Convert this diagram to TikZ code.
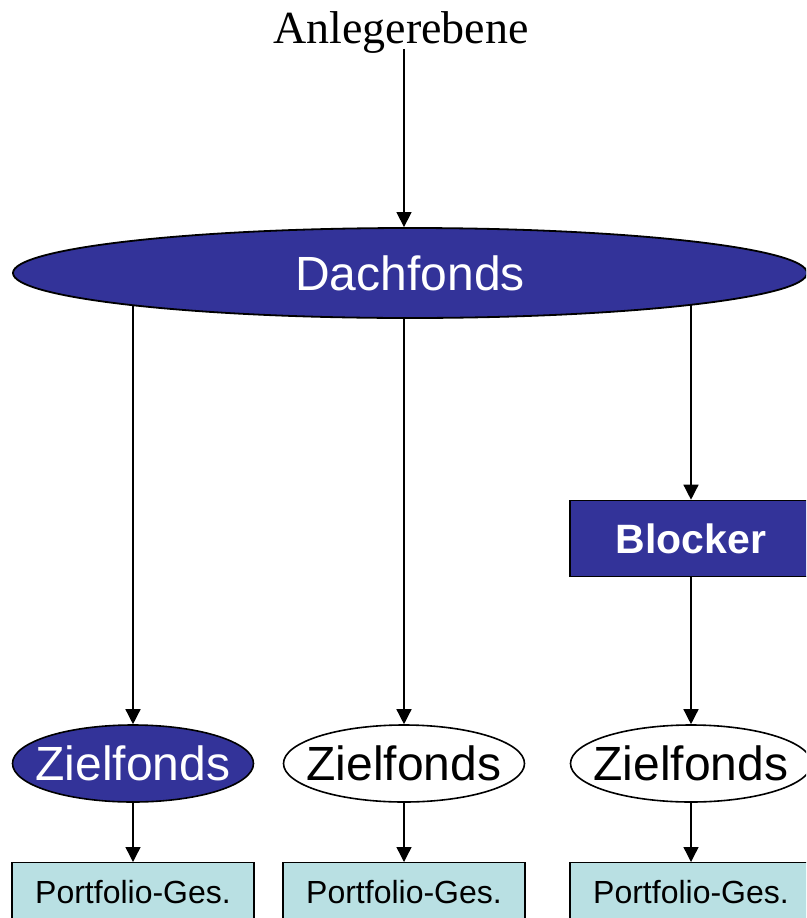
\documentclass[tikz,border=0pt]{standalone}
\usepackage{fontspec}
\setmainfont{Liberation Serif}
\setsansfont{Liberation Sans}
\usetikzlibrary{shapes.geometric,arrows.meta,backgrounds}
\definecolor{fondblue}{HTML}{333399}
\definecolor{portcyan}{HTML}{B9E0E3}
\newcommand{\fixedlabel}[1]{\makebox[0pt]{#1}}
\begin{document}
\begin{tikzpicture}[x=1pt,y=-1pt,
  conn/.style={line width=1.4pt,-{Triangle[width=15pt,length=15pt]}},
  bigfund/.style={ellipse,draw=black,line width=1.8pt,fill=fondblue,text=white,
    minimum width=794pt,minimum height=90pt,inner sep=0pt,
    font=\sffamily\fontsize{48}{52}\selectfont},
  target/.style={ellipse,draw=black,line width=1.6pt,
    minimum width=241pt,minimum height=77pt,inner sep=0pt,
    font=\sffamily\fontsize{48}{52}\selectfont},
  targetdark/.style={target,fill=fondblue,text=white},
  targetlight/.style={target,fill=white,text=black},
  blockbox/.style={rectangle,draw=black,line width=1.6pt,fill=fondblue,text=white,
    minimum width=242pt,minimum height=76pt,inner sep=0pt,
    font=\sffamily\bfseries\fontsize{41}{45}\selectfont},
  portbox/.style={rectangle,draw=black,line width=1.4pt,fill=portcyan,
    minimum width=242pt,minimum height=70pt,inner sep=0pt,anchor=north},
  porttext/.style={anchor=base,inner sep=0pt,text=black,
    font=\sffamily\fontsize{32}{36}\selectfont}]
\useasboundingbox (0,0) rectangle (806,918);
\begin{scope}
\clip (0,0) rectangle (806,918);

% investor level
\node[anchor=base,font=\fontsize{46}{50}\selectfont,inner sep=0pt] (anleger) at (401,43) {Anlegerebene};
\coordinate (top) at (404,49);

% fund of funds
\node[bigfund] (dach) at (410,273) {Dachfonds};

% blocker
\node[blockbox] (blocker) at (691,538.5) {Blocker};

% target funds
\node[targetdark] (z1) at (133,763.5) {\fixedlabel{Zielfonds}};
\node[targetlight] (z2) at (404,763.5) {\fixedlabel{Zielfonds}};
\node[targetlight] (z3) at (691,763.5) {\fixedlabel{Zielfonds}};

% portfolio companies
\node[portbox] (p1) at (133,862) {};
\node[portbox] (p2) at (404,862) {};
\node[portbox] (p3) at (691,862) {};
\node[porttext] (t1) at (133,903) {Portfolio-Ges.};
\node[porttext] (t2) at (404,903) {Portfolio-Ges.};
\node[porttext] (t3) at (691,903) {Portfolio-Ges.};

\begin{scope}[on background layer]
  \draw[conn] (top) -- (top |- dach.north);
  \draw[conn] (dach.center -| z1.north) -- (z1.north);
  \draw[conn] (dach.center -| z2.north) -- (z2.north);
  \draw[conn] (dach.center -| blocker.north) -- (blocker.north);
  \draw[conn] (blocker.south) -- (z3.north);
  \draw[conn] (z1.south) -- (p1.north);
  \draw[conn] (z2.south) -- (p2.north);
  \draw[conn] (z3.south) -- (p3.north);
\end{scope}
\end{scope}
\end{tikzpicture}
\end{document}
